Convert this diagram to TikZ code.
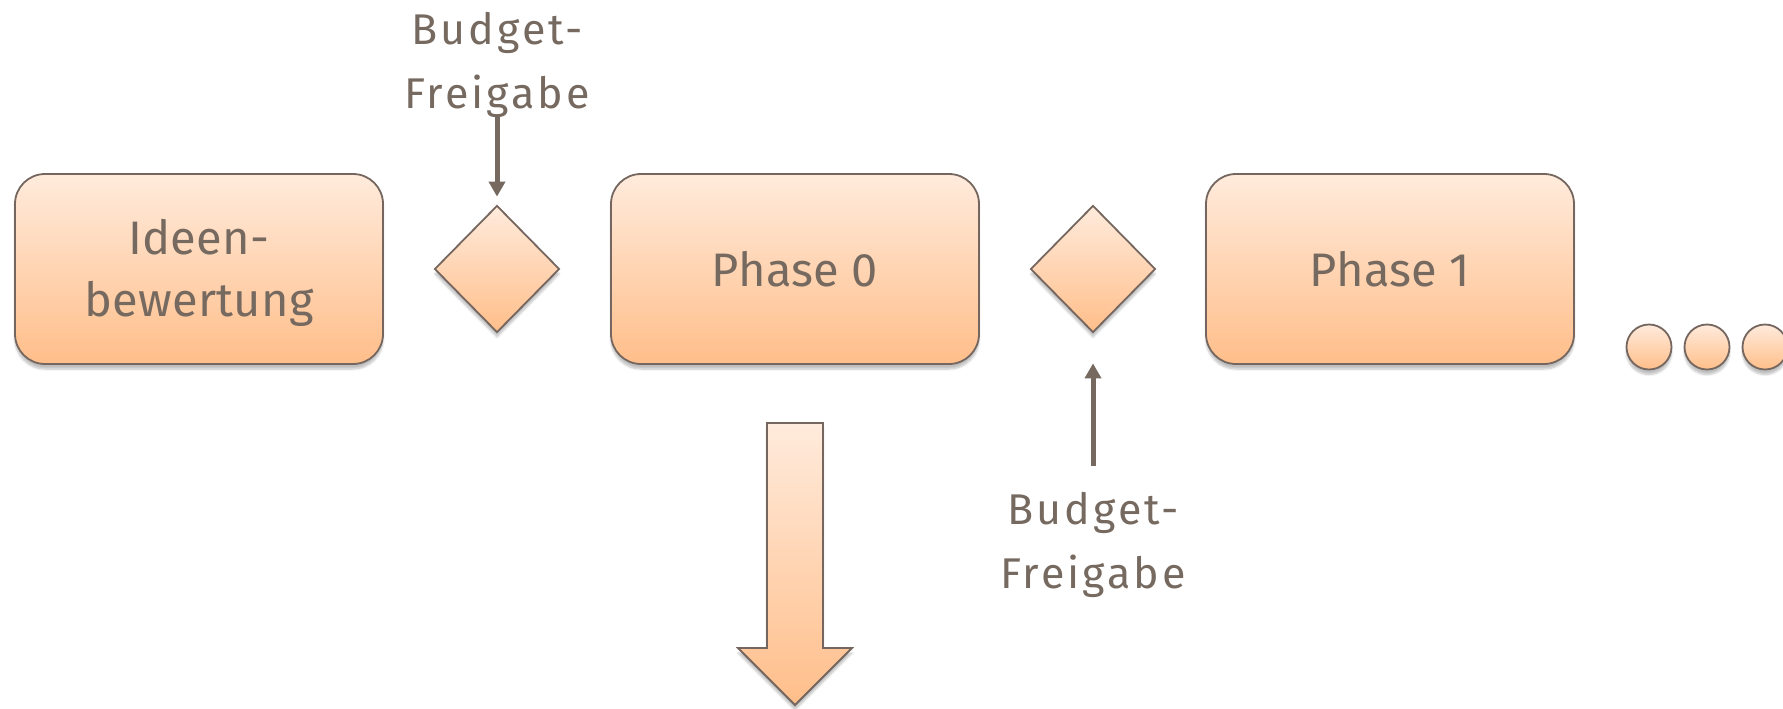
\documentclass[tikz,border=0pt]{standalone}
\usepackage{fontspec}
\setmainfont{Fira Sans}
\newfontfamily\boxfont{Fira Sans}[LetterSpace=0.5]
\newfontfamily\lblfont{Fira Sans}[LetterSpace=7]
\usetikzlibrary{shapes.geometric,arrows.meta,shadows.blur}
\definecolor{txt}{HTML}{76695F}
\definecolor{edge}{HTML}{75675F}
\definecolor{gtop}{HTML}{FFEBDC}
\definecolor{gbot}{HTML}{FFBE8A}
\tikzset{
  peach/.style={draw=edge, line width=1.8pt, top color=gtop, bottom color=gbot,
    blur shadow={shadow xshift=0pt, shadow yshift=-5pt, shadow blur steps=6, shadow opacity=25}},
  phasebox/.style={peach, rectangle, rounded corners=30pt, minimum width=368pt, minimum height=190pt,
    inner sep=0pt, align=center, text=txt, font=\boxfont\fontsize{47}{62}\selectfont},
  gate/.style={peach, diamond, minimum width=125pt, minimum height=127pt, inner sep=0pt},
  dot/.style={peach, circle, minimum size=45pt, inner sep=0pt},
  lbl/.style={align=center, text=txt, font=\lblfont\fontsize{43}{64}\selectfont, inner sep=0pt},
  conn/.style={draw=txt, line width=5pt, -{Triangle[length=15pt,width=16pt]}}
}
\begin{document}
\begin{tikzpicture}[x=1pt,y=-1pt]
\useasboundingbox (0,0) rectangle (1783,709);
\node[phasebox] (b1) at (199,269) {\rule{0pt}{44pt}Ideen-\\bewertung};
\node[gate] (d1) at (497,269) {};
\node[phasebox] (b2) at (795,269) {Phase 0};
\node[gate] (d2) at (1093,269) {};
\node[phasebox] (b3) at (1390,269) {Phase 1};
\node[dot] (c1) at (1649,347) {};
\node[dot] (c2) at (1707,347) {};
\node[dot] (c3) at (1765,347) {};
\node[lbl] (l1) at (497,65) {Budget-\\Freigabe};
\node[lbl] (l2) at (1093,545) {Budget-\\Freigabe};
\coordinate (s1) at (497,117);
\coordinate (s2) at (1093,466);
\draw[conn, shorten >=8pt] (s1) -- (d1.north);
\draw[conn, shorten >=30pt] (s2) -- (d2.south);
\shade[draw=edge, line width=1.8pt, top color=gtop, bottom color=gbot,
  blur shadow={shadow xshift=0pt, shadow yshift=-5pt, shadow blur steps=6, shadow opacity=25}]
  (767,423) -- (823,423) -- (823,648) -- (852,648) -- (795,705) -- (738,648) -- (767,648) -- cycle;
\end{tikzpicture}
\end{document}
